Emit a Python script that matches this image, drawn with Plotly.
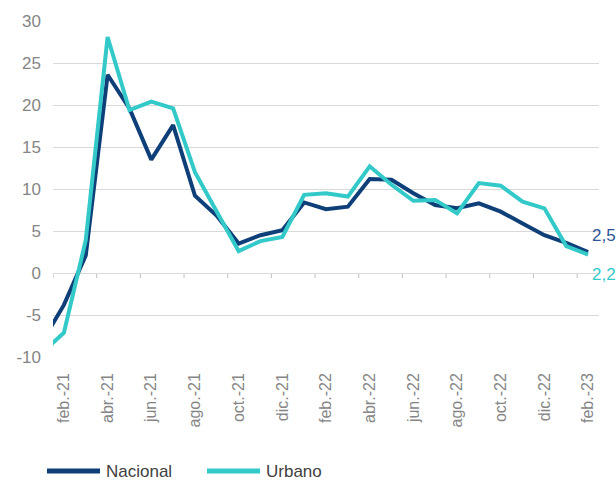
import plotly.graph_objects as go

# ---- data ----
months = ["ene.-21", "feb.-21", "mar.-21", "abr.-21", "may.-21", "jun.-21", "jul.-21",
          "ago.-21", "sep.-21", "oct.-21", "nov.-21", "dic.-21", "ene.-22", "feb.-22",
          "mar.-22", "abr.-22", "may.-22", "jun.-22", "jul.-22", "ago.-22", "sep.-22",
          "oct.-22", "nov.-22", "dic.-22", "ene.-23", "feb.-23"]
nacional = [-8.2, -3.8, 2.1, 23.6, 19.6, 13.5, 17.6, 9.2, 6.8, 3.5, 4.5, 5.1, 8.4, 7.6,
            7.9, 11.2, 11.1, 9.5, 8.1, 7.7, 8.3, 7.3, 5.9, 4.5, 3.6, 2.5]
urbano = [-9.5, -7.1, 3.9, 28.1, 19.4, 20.4, 19.6, 12.0, 7.3, 2.6, 3.8, 4.3, 9.3, 9.5,
          9.1, 12.7, 10.5, 8.6, 8.7, 7.1, 10.7, 10.4, 8.5, 7.7, 3.2, 2.2]
tick_labels = months[1::2]
y_ticks = [-10, -5, 0, 5, 10, 15, 20, 25, 30]
series_names = ["Nacional", "Urbano"]

C_NAC = "#0e3f78"
C_URB = "#33c9c9"
FONT = "Liberation Sans"
GRAY = "#858585"

fig = go.Figure()
fig.add_trace(go.Scatter(x=months, y=nacional, mode="lines", name=series_names[0],
                         line=dict(color=C_NAC, width=4), showlegend=False))
fig.add_trace(go.Scatter(x=months, y=urbano, mode="lines", name=series_names[1],
                         line=dict(color=C_URB, width=4), showlegend=False))

# tick marks on the zero line, between categories every two months
for k in range(0, len(months), 2):
    b = k + 0.5
    if b > len(months) - 1:
        break
    fig.add_shape(type="line", xref="x", yref="y", x0=b, x1=b, ysizemode="pixel",
                  yanchor=0, y0=0, y1=-5, line=dict(color="#bfbfbf", width=1), layer="below")

# end labels
fig.add_annotation(x=months[-1], y=nacional[-1], text=f"{nacional[-1]:.1f}".replace(".", ","),
                   showarrow=False, xanchor="left", yanchor="middle", xshift=2, yshift=17,
                   font=dict(family=FONT, size=17, color="#2f5597"))
fig.add_annotation(x=months[-1], y=urbano[-1], text=f"{urbano[-1]:.1f}".replace(".", ","),
                   showarrow=False, xanchor="left", yanchor="middle", xshift=2, yshift=-20,
                   font=dict(family=FONT, size=17, color=C_URB))

# manual legend
W, H, L, B = 546, 336, 53, 124
def px(x):
    return (x - L) / W
def py(y):
    return (357 - y) / H
LEG_Y = 471
for (x0, x1, tx, name, col) in [(47, 100, 104, series_names[0], C_NAC),
                                (207, 260, 264, series_names[1], C_URB)]:
    fig.add_shape(type="line", xref="paper", yref="paper", x0=px(x0), x1=px(x1),
                  y0=py(LEG_Y), y1=py(LEG_Y), line=dict(color=col, width=5))
    fig.add_annotation(xref="paper", yref="paper", x=px(tx), y=py(LEG_Y), text=name,
                       showarrow=False, xanchor="left", yanchor="middle",
                       font=dict(family=FONT, size=17, color="#404040"))

fig.update_layout(
    width=616, height=481,
    margin=dict(l=L, r=616 - 599, t=21, b=B),
    plot_bgcolor="white", paper_bgcolor="white",
    font=dict(family=FONT, color=GRAY),
    xaxis=dict(type="category", range=[0.5, 25.5], tickvals=tick_labels, ticktext=tick_labels,
               tickangle=-90, showgrid=False, showline=False, zeroline=False, ticks="",
               tickfont=dict(family=FONT, size=16, color=GRAY), ticklabelstandoff=12),
    yaxis=dict(range=[-10, 30], tickvals=y_ticks, ticktext=[str(v) for v in y_ticks],
               showgrid=True, gridcolor="#d9d9d9", gridwidth=1,
               zeroline=False, showline=False, ticks="",
               tickfont=dict(family=FONT, size=17, color=GRAY), ticklabelstandoff=11),
)

fig.write_html("out.html", config={"displayModeBar": False},
               post_script="document.body.style.margin='0';")
